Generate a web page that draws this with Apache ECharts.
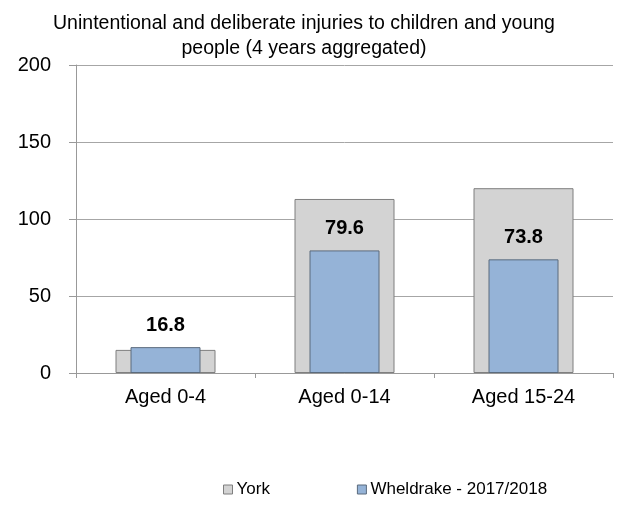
<!DOCTYPE html>
<html>
<head>
<meta charset="utf-8">
<script src="https://cdn.jsdelivr.net/npm/echarts@6/dist/echarts.min.js"></script>
<style>html,body{margin:0;padding:0;background:#fff}#c{width:617px;height:510px}</style>
</head>
<body>
<div id="c"></div>
<script>
const categories = ['Aged 0-4', 'Aged 0-14', 'Aged 15-24'];
const yorkValues = [15, 113, 120];
const wheldrakeValues = [16.8, 79.6, 73.8];
const seriesNames = ['York', 'Wheldrake - 2017/2018'];
const titleText = 'Unintentional and deliberate injuries to children and young\npeople (4 years aggregated)';

const FONT = 'Liberation Sans, Arial, sans-serif';
const chart = echarts.init(document.getElementById('c'), null, {renderer: 'canvas'});
chart.setOption({
  animation: false,
  backgroundColor: '#fff',
  title: {
    text: titleText,
    left: 299,
    textAlign: 'center',
    top: 6,
    textStyle: {fontFamily: FONT, fontSize: 19.5, fontWeight: 'normal', color: '#000', lineHeight: 25}
  },
  legend: {
    left: 218,
    top: 476,
    icon: 'rect',
    itemWidth: 9,
    itemHeight: 9,
    itemGap: 87,
    textStyle: {fontFamily: FONT, fontSize: 17, color: '#000', padding: [0,0,0,-1]},
    data: [
      {name: seriesNames[0], itemStyle: {color: '#d3d3d3', borderColor: '#7f7f7f', borderWidth: 1}},
      {name: seriesNames[1], itemStyle: {color: '#95b3d7', borderColor: '#5b6b7d', borderWidth: 1}}
    ]
  },
  grid: {left: 76, right: 4, top: 65, bottom: 137, containLabel: false},
  xAxis: [
    {
      type: 'category',
      data: categories,
      axisLine: {lineStyle: {color: '#999', width: 1}},
      axisTick: {show: true, length: 5, lineStyle: {color: '#999'}},
      axisLabel: {fontFamily: FONT, fontSize: 20, color: '#000', margin: 14}
    },
    {
      type: 'category',
      data: categories,
      show: false
    }
  ],
  yAxis: {
    type: 'value',
    min: 0,
    max: 200,
    interval: 50,
    axisLine: {show: true, lineStyle: {color: '#999', width: 1}},
    axisTick: {show: true, length: 7, lineStyle: {color: '#999'}},
    splitLine: {lineStyle: {color: '#a6a6a6', width: 1}},
    axisLabel: {fontFamily: FONT, fontSize: 20, color: '#000', margin: 25}
  },
  series: [
    {
      name: seriesNames[0],
      type: 'bar',
      xAxisIndex: 0,
      data: yorkValues,
      barWidth: 100,
      itemStyle: {color: '#d3d3d3', borderColor: '#7f7f7f', borderWidth: 1}
    },
    {
      name: seriesNames[1],
      type: 'bar',
      xAxisIndex: 1,
      data: wheldrakeValues,
      barWidth: 70,
      itemStyle: {color: '#95b3d7', borderColor: '#5b6b7d', borderWidth: 1},
      label: {
        show: true,
        position: 'top',
        distance: 12,
        fontFamily: FONT,
        fontSize: 20,
        fontWeight: 'bold',
        color: '#000'
      }
    }
  ]
});
</script>
</body>
</html>
